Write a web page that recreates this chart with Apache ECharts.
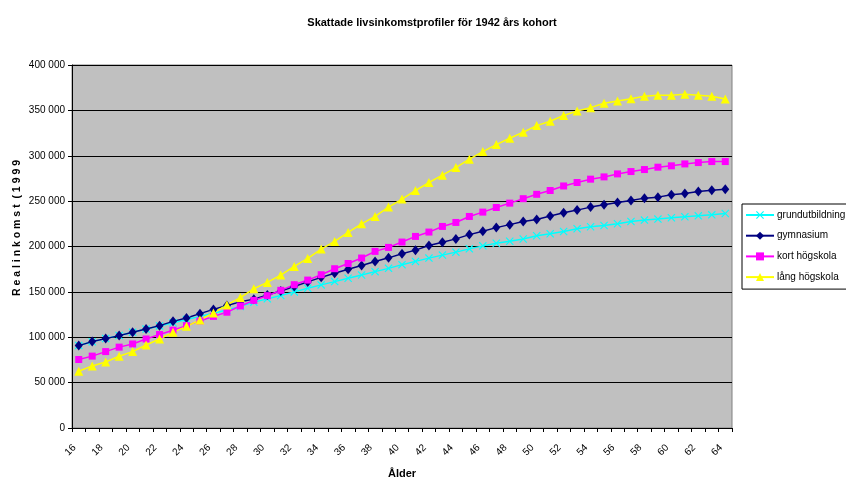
<!DOCTYPE html>
<html>
<head>
<meta charset="utf-8">
<script src="https://cdn.jsdelivr.net/npm/echarts@6/dist/echarts.min.js"></script>
<style>
  html, body { margin: 0; padding: 0; background: #fff; }
  #chart { width: 846px; height: 479px; }
</style>
</head>
<body>
<div id="chart"></div>
<script>
// Ages 16..64
const ages = [];
for (let a = 16; a <= 64; a++) ages.push(String(a));

const grundutbildning = [
  91000, 95000, 98500, 102000, 105500, 109000, 112500, 116000, 119500, 123000,
  126500, 130000, 134000, 138700, 142300, 146000, 150000, 154000, 157700, 161300,
  165000, 168600, 172300, 175900, 180000, 183600, 187200, 190500, 193800, 197400,
  200700, 203600, 205800, 208300, 211800, 214000, 216600, 219500, 221700, 223200,
  225000, 227600, 229100, 230200, 231600, 232700, 233800, 234900, 236400
];
const gymnasium = [
  90800, 95200, 98500, 101800, 105400, 109200, 112800, 117500, 121300, 126000,
  130700, 135000, 139000, 142000, 146500, 151000, 156000, 161000, 166000, 170500,
  175000, 179000, 183500, 187500, 192000, 196000, 201100, 204700, 208400, 213100,
  216800, 220800, 224100, 227600, 229800, 233500, 237100, 240100, 243400, 245900,
  248500, 250700, 253300, 254400, 256900, 258400, 260600, 262100, 263200
];
const kortHogskola = [
  75500, 79200, 84200, 89100, 92600, 98100, 103000, 107800, 112800, 118000,
  123000, 127600, 134500, 140600, 145800, 151700, 157900, 163000, 168900, 175500,
  181300, 187300, 194600, 199000, 204900, 211100, 215900, 222100, 226500, 233100,
  237900, 243000, 247800, 252700, 257500, 261700, 266700, 270500, 274200, 276700,
  280000, 282600, 284800, 287400, 288900, 291000, 292500, 293600, 293600
];
const langHogskola = [
  62500, 68400, 72800, 79000, 84200, 91500, 98100, 105400, 112000, 119000,
  126800, 135600, 143700, 153500, 160400, 168500, 178000, 186900, 197200, 205600,
  215500, 225000, 233100, 243400, 252300, 261700, 270500, 278600, 287000, 296200,
  304600, 312300, 319300, 325900, 333200, 338000, 344400, 349400, 353000, 357800,
  360400, 362900, 365500, 366700, 366700, 367800, 366700, 365500, 362600
];

const seriesNames = ['grundutbildning', 'gymnasium', 'kort högskola', 'lång högskola'];
const yTicks = [0, 50000, 100000, 150000, 200000, 250000, 300000, 350000, 400000];

const crossSymbol = 'path://M0,1 L1,0 L5,4 L9,0 L10,1 L6,5 L10,9 L9,10 L5,6 L1,10 L0,9 L4,5 Z';
const font = 'Liberation Sans, Arial, sans-serif';

function fmt(v) {
  return String(v).replace(/\B(?=(\d{3})+(?!\d))/g, ' ');
}

function lineSeries(name, data, color, symbol, size) {
  return {
    name: name,
    type: 'line',
    data: data,
    symbol: symbol,
    symbolSize: size,
    showAllSymbol: true,
    animation: false,
    lineStyle: { color: color, width: 1.5 },
    itemStyle: { color: color, borderWidth: 0 }
  };
}

const chart = echarts.init(document.getElementById('chart'), null, { renderer: 'canvas' });
chart.setOption({
  backgroundColor: '#ffffff',
  animation: false,
  title: {
    text: 'Skattade livsinkomstprofiler för 1942 års kohort',
    left: 427,
    top: 12,
    textAlign: 'center',
    textStyle: { fontFamily: font, fontSize: 11, fontWeight: 'bold', color: '#000' }
  },
  grid: {
    left: 72, right: 114, top: 65, bottom: 51,
    containLabel: false,
    outerBoundsMode: 'none',
    show: true,
    backgroundColor: '#c0c0c0',
    borderColor: '#808080',
    borderWidth: 1
  },
  legend: {
    orient: 'vertical',
    left: 742,
    top: 204,
    padding: [6, 8, 7, 3],
    itemWidth: 28,
    itemHeight: 10,
    itemGap: 10.7,
    backgroundColor: '#ffffff',
    borderColor: '#000000',
    borderWidth: 1,
    borderRadius: 0,
    data: seriesNames,
    textStyle: { fontFamily: font, fontSize: 10, color: '#000', padding: [0, 0, 0, -2] }
  },
  xAxis: {
    type: 'category',
    data: ages,
    boundaryGap: true,
    name: 'Ålder',
    nameLocation: 'middle',
    nameGap: 40,
    nameTextStyle: { fontFamily: font, fontSize: 11, fontWeight: 'bold', color: '#000' },
    axisLine: { show: true, lineStyle: { color: '#000', width: 1 } },
    axisTick: { show: true, interval: 0, length: 4, inside: false, lineStyle: { color: '#000' }, alignWithLabel: false },
    axisLabel: {
      interval: 1,
      rotate: 45,
      margin: 14,
      padding: [0, 6, 0, 0],
      fontFamily: font,
      fontSize: 10,
      color: '#000'
    },
    splitLine: { show: false }
  },
  yAxis: {
    type: 'value',
    min: 0,
    max: 400000,
    interval: 50000,
    axisLine: { show: true, lineStyle: { color: '#000', width: 1 } },
    axisTick: { show: true, length: 4, lineStyle: { color: '#000' } },
    axisLabel: {
      margin: 7,
      fontFamily: font,
      fontSize: 10,
      color: '#000',
      formatter: function (v) { return yTicks.indexOf(v) >= 0 ? fmt(v) : ''; }
    },
    splitLine: { show: true, lineStyle: { color: '#000', width: 1 } }
  },
  graphic: [{
    type: 'text',
    x: 17,
    y: 228,
    rotation: Math.PI / 2,
    style: {
      text: 'R e a l i n k o m s t  ( 1 9 9 9',
      fontFamily: font,
      fontSize: 10.5,
      fontWeight: 'bold',
      fill: '#000',
      textAlign: 'center',
      textVerticalAlign: 'middle'
    }
  }],
  series: [
    lineSeries(seriesNames[0], grundutbildning, '#00ffff', crossSymbol, 8),
    lineSeries(seriesNames[1], gymnasium, '#000080', 'diamond', [8, 10]),
    lineSeries(seriesNames[2], kortHogskola, '#ff00ff', 'rect', 7),
    lineSeries(seriesNames[3], langHogskola, '#ffff00', 'triangle', 9)
  ]
});
</script>
</body>
</html>
